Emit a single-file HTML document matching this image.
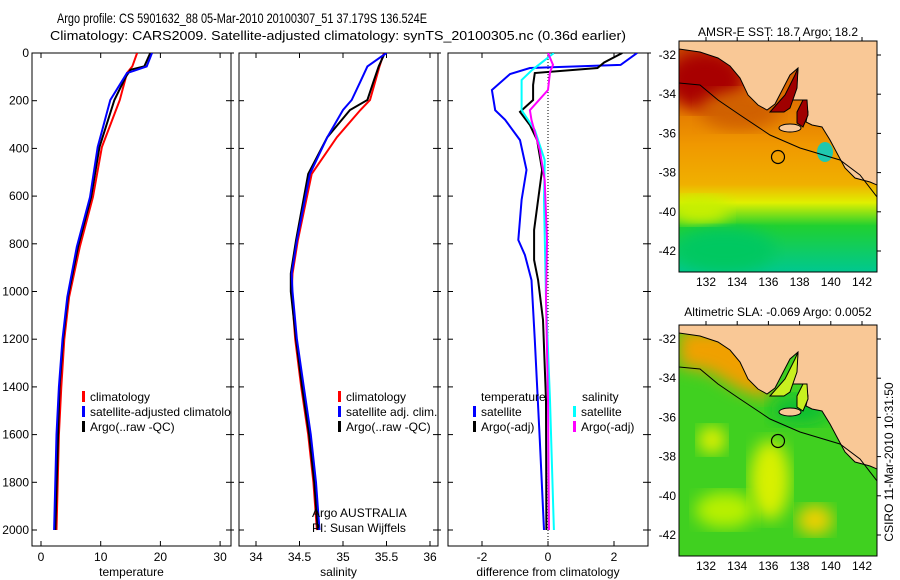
<!DOCTYPE html>
<html><head><meta charset="utf-8"><style>
html,body{margin:0;padding:0;background:#fff;}
svg{display:block;font-family:"Liberation Sans",sans-serif;}
</style></head><body>
<svg id="fig" width="900" height="580" viewBox="0 0 900 580">
<defs>
<linearGradient id="sst" x1="0" y1="0" x2="0" y2="1">
<stop offset="0" stop-color="#c84800"/><stop offset="0.25" stop-color="#e07000"/><stop offset="0.45" stop-color="#f09800"/>
<stop offset="0.62" stop-color="#f0b000"/><stop offset="0.7" stop-color="#e0f000"/><stop offset="0.8" stop-color="#20d030"/>
<stop offset="1" stop-color="#00c890"/></linearGradient>
<filter id="bl"><feGaussianBlur stdDeviation="8"/></filter>
<clipPath id="c1"><rect x="679" y="41" width="198" height="231"/></clipPath>
<clipPath id="c2"><rect x="679" y="325" width="198" height="231"/></clipPath>
<clipPath id="cp1"><rect x="32" y="53" width="199" height="493"/></clipPath>
<clipPath id="cp2"><rect x="239" y="53" width="199" height="493"/></clipPath>
<clipPath id="cp3"><rect x="448" y="53" width="200" height="493"/></clipPath>
</defs>
<text x="57" y="23" font-size="14" textLength="370" lengthAdjust="spacingAndGlyphs">Argo profile: CS 5901632_88 05-Mar-2010 20100307_51 37.179S 136.524E</text>
<text x="50" y="40" font-size="13" textLength="576" lengthAdjust="spacingAndGlyphs">Climatology: CARS2009. Satellite-adjusted climatology: synTS_20100305.nc (0.36d earlier)</text>

<g id="p1"></g>
<g id="p2"></g>
<g id="p3"></g>

<g clip-path="url(#c1)">
<rect x="679" y="41" width="198" height="231" fill="url(#sst)"/>
<ellipse cx="705" cy="80" rx="40" ry="30" fill="#a80000" filter="url(#bl)"/>
<ellipse cx="740" cy="110" rx="40" ry="20" fill="#d06000" filter="url(#bl)"/>
<ellipse cx="700" cy="210" rx="30" ry="14" fill="#c8f000" filter="url(#bl)"/>
<ellipse cx="725" cy="250" rx="50" ry="22" fill="#00c860" filter="url(#bl)"/>
<ellipse cx="825" cy="152" rx="8" ry="10" fill="#20c8b0"/>
<path d="M679,41 L679,49 L700,52 L718,58 L730,66 L740,78 L748,95 L758,105 L767,110 L775,104 L790,75 L798,68 L797,82 L792,100 L805,100 L808,112 L806,122 L812,125 L822,127 L830,140 L838,155 L845,168 L855,178 L870,182 L877,185 L877,41 Z" fill="#f9c896" stroke="#000" stroke-width="1"/>
<path d="M770,112 L785,95 L795,75 L798,68 L797,88 L790,108 L784,112 Z" fill="#a00000" stroke="#000"/>
<path d="M797,112 L803,100 L807,100 L808,115 L803,127 L797,123 Z" fill="#a00000" stroke="#000"/>
<ellipse cx="790" cy="128" rx="11" ry="4" fill="#f9c896" stroke="#000"/>
<path d="M679,83 L700,85 L718,100 L740,115 L770,135 L800,148 L840,160 L860,175 L877,197" fill="none" stroke="#000" stroke-width="1"/>
<circle cx="778" cy="157" r="6.5" fill="none" stroke="#000" stroke-width="1.2"/>
</g>
<rect x="679" y="41" width="198" height="231" fill="none" stroke="#000"/>
<text x="778" y="36" font-size="12" text-anchor="middle">AMSR-E SST: 18.7 Argo: 18.2</text>

<g clip-path="url(#c2)">
<rect x="679" y="325" width="198" height="231" fill="#40d020"/>
<path d="M679,330 L760,330 L770,400 L740,390 L710,372 L679,366 Z" fill="#f0a000" filter="url(#bl)"/>
<ellipse cx="712" cy="440" rx="14" ry="14" fill="#e0f000" filter="url(#bl)"/>
<ellipse cx="770" cy="480" rx="20" ry="40" fill="#d8f000" filter="url(#bl)"/>
<ellipse cx="815" cy="520" rx="18" ry="15" fill="#f0d000" filter="url(#bl)"/>
<ellipse cx="725" cy="510" rx="30" ry="18" fill="#b8f000" filter="url(#bl)"/>
<ellipse cx="800" cy="410" rx="30" ry="15" fill="#10c030" filter="url(#bl)"/>
<g transform="translate(0,284)">
<path d="M679,41 L679,49 L700,52 L718,58 L730,66 L740,78 L748,95 L758,105 L767,110 L775,104 L790,75 L798,68 L797,82 L792,100 L805,100 L808,112 L806,122 L812,125 L822,127 L830,140 L838,155 L845,168 L855,178 L870,182 L877,185 L877,41 Z" fill="#f9c896" stroke="#000" stroke-width="1"/>
<path d="M770,112 L785,95 L795,75 L798,68 L797,88 L790,108 L784,112 Z" fill="#c8f020" stroke="#000"/>
<path d="M797,112 L803,100 L807,100 L808,115 L803,127 L797,123 Z" fill="#c8f020" stroke="#000"/>
<ellipse cx="790" cy="128" rx="11" ry="4" fill="#f9c896" stroke="#000"/>
<path d="M679,83 L700,85 L718,100 L740,115 L770,135 L800,148 L840,160 L860,175 L877,197" fill="none" stroke="#000" stroke-width="1"/>
<circle cx="778" cy="157" r="6.5" fill="none" stroke="#000" stroke-width="1.2"/>
</g>
</g>
<rect x="679" y="325" width="198" height="231" fill="none" stroke="#000"/>
<text x="778" y="316" font-size="12" text-anchor="middle">Altimetric SLA: -0.069 Argo: 0.0052</text>
<text transform="translate(893,462) rotate(-90)" font-size="12" text-anchor="middle">CSIRO 11-Mar-2010 10:31:50</text>
<g id="mapax"></g>
</svg>
<script>
const depthTicks = [0,200,400,600,800,1000,1200,1400,1600,1800,2000];
const tempTicks = [0,10,20,30];
const salTicks = [34,34.5,35,35.5,36];
const diffTicks = [-2,0,2];
const lonTicks = [132,134,136,138,140,142];
const latTicks = [-32,-34,-36,-38,-40,-42];

const tClimDepth = [0,56,84,197,394,604,813,1023,1200,1400,1600,2000];
const tClimVal   = [16.1,15.3,14.4,13.2,10.2,8.7,6.5,4.7,3.9,3.4,3.0,2.6];
const tSatDepth = [0,56,75,84,197,394,604,813,1023,1200,1400,1600,2000];
const tSatVal   = [18.6,17.7,15.5,14.4,11.6,9.5,8.2,6.0,4.4,3.6,3.0,2.6,2.2];
const tArgoDepth = [0,56,70,100,197,394,604,813,1023,1200,1400,2000];
const tArgoVal   = [18.3,17.3,15.0,14.2,12.3,9.8,8.4,6.2,4.5,3.7,3.1,2.4];

const sClimDepth = [0,56,197,239,353,507,786,925,1000,1200,1400,1600,1800,2000];
const sClimVal   = [35.47,35.42,35.31,35.2,34.93,34.64,34.48,34.42,34.41,34.45,34.52,34.6,34.66,34.7];
const sSatDepth = [0,56,120,197,239,353,507,786,925,1000,1200,1400,1600,1800,2000];
const sSatVal   = [35.5,35.28,35.2,35.1,35.0,34.82,34.62,34.47,34.41,34.42,34.47,34.55,34.63,34.69,34.73];
const sArgoDepth = [0,56,120,197,239,353,507,786,925,1000,1200,1400,1600,1800,2000];
const sArgoVal   = [35.48,35.41,35.35,35.28,35.08,34.82,34.6,34.46,34.4,34.4,34.46,34.53,34.61,34.67,34.71];

const dTSatDepth = [0,50,63,88,155,240,280,365,490,616,784,847,952,1203,1623,2000];
const dTSatVal   = [2.7,2.2,-0.55,-1.15,-1.7,-1.6,-1.3,-0.85,-0.65,-0.8,-0.9,-0.7,-0.5,-0.4,-0.25,-0.12];
const dTArgoDepth = [0,40,63,84,134,197,247,302,365,490,616,742,868,952,1119,1455,2000];
const dTArgoVal   = [2.25,1.7,1.5,-0.4,-0.45,-0.45,-0.85,-0.55,-0.33,-0.18,-0.3,-0.42,-0.42,-0.3,-0.15,-0.06,-0.05];
const dSSatDepth = [0,30,71,113,240,323,449,616,1035,1455,2000];
const dSSatVal   = [0.18,-0.1,-0.48,-0.8,-0.8,-0.4,-0.1,-0.12,-0.06,0.06,0.18];
const dSArgoDepth = [0,50,80,155,240,281,407,533,784,1035,1455,2000];
const dSArgoVal   = [0.0,0.15,0.06,0.0,-0.55,-0.5,-0.25,-0.1,-0.03,-0.06,0.0,0.03];

const NS='http://www.w3.org/2000/svg';
const yOf = d => 53 + d*477/2000;
const xT = v => 41 + v*5.97;
const xS = v => 256 + (v-34)*87;
const xD = v => 548 + v*33;
function mk(tag, attrs, parent){const e=document.createElementNS(NS,tag);for(const k in attrs)e.setAttribute(k,attrs[k]);parent.appendChild(e);return e;}

function panel(gid, x0, x1, xf, ticks, xlabel, clip, showY){
  const g=document.getElementById(gid);
  const fr=mk('rect',{x:x0,y:53,width:x1-x0,height:493,fill:'none',stroke:'#000'},g);
  
  
  depthTicks.forEach(d=>{
    const y=yOf(d);
    mk('line',{x1:x0,x2:x0+5,y1:y,y2:y,stroke:'#000'},g);
    mk('line',{x1:x1-5,x2:x1+3,y1:y,y2:y,stroke:'#000'},g);
    if(showY){const t=mk('text',{x:x0-3,y:y+4,'font-size':12,'text-anchor':'end'},g);t.textContent=d;
      
      }
  });
  ticks.forEach(v=>{
    const x=xf(v);
    mk('line',{x1:x,x2:x,y1:53,y2:58,stroke:'#000'},g);
    mk('line',{x1:x,x2:x,y1:541,y2:546,stroke:'#000'},g);
    const t=mk('text',{x:x,y:561,'font-size':12,'text-anchor':'middle'},g);t.textContent=v;
    
    
  });
  const l=mk('text',{x:(x0+x1)/2,y:576,'font-size':12,'text-anchor':'middle'},g);l.textContent=xlabel;
  
  
  return mk('g',{'clip-path':'url(#'+clip+')'},g);
}
function line(g, xf, depth, vals, color, name){
  const pts=depth.map((d,i)=>xf(vals[i]).toFixed(1)+','+yOf(d).toFixed(1)).join(' ');
  const p=mk('polyline',{points:pts,fill:'none',stroke:color,'stroke-width':2},g);
  
  
}
function legend(g, x, y, color, label){
  mk('rect',{x:x,y:y-9,width:3,height:11,fill:color},g);
  const t=mk('text',{x:x+8,y:y+1,'font-size':12},g);t.textContent=label;
  
  
}

const g1=panel('p1',32,231,xT,tempTicks,'temperature','cp1',true);
line(g1,xT,tClimDepth,tClimVal,'#f00','temp-climatology-line');
line(g1,xT,tArgoDepth,tArgoVal,'#000','temp-argo-line');
line(g1,xT,tSatDepth,tSatVal,'#00f','temp-satellite-line');
legend(g1,82,400,'#f00','climatology');
legend(g1,82,415,'#00f','satellite-adjusted climatology');
legend(g1,82,430,'#000','Argo(..raw -QC)');

const g2=panel('p2',239,438,xS,salTicks,'salinity','cp2',false);
line(g2,xS,sClimDepth,sClimVal,'#f00','sal-climatology-line');
line(g2,xS,sArgoDepth,sArgoVal,'#000','sal-argo-line');
line(g2,xS,sSatDepth,sSatVal,'#00f','sal-satellite-line');
legend(g2,338,400,'#f00','climatology');
legend(g2,338,415,'#00f','satellite adj. clim.');
legend(g2,338,430,'#000','Argo(..raw -QC)');
let t=mk('text',{x:312,y:517,'font-size':12},g2);t.textContent='Argo AUSTRALIA';


t=mk('text',{x:312,y:532,'font-size':12},g2);t.textContent='PI: Susan Wijffels';



const g3=panel('p3',448,648,xD,diffTicks,'difference from climatology','cp3',false);
mk('line',{x1:xD(0),x2:xD(0),y1:53,y2:546,stroke:'#000','stroke-dasharray':'1,2'},g3);
line(g3,xD,dTSatDepth,dTSatVal,'#00f','diff-temp-satellite-line');
line(g3,xD,dTArgoDepth,dTArgoVal,'#000','diff-temp-argo-line');
line(g3,xD,dSSatDepth,dSSatVal,'#0ff','diff-sal-satellite-line');
line(g3,xD,dSArgoDepth,dSArgoVal,'#f0f','diff-sal-argo-line');
t=mk('text',{x:481,y:401,'font-size':12},g3);t.textContent='temperature';


t=mk('text',{x:582,y:401,'font-size':12},g3);t.textContent='salinity';


legend(g3,473,415,'#00f','satellite');
legend(g3,473,430,'#000','Argo(-adj)');
legend(g3,573,415,'#0ff','satellite');
legend(g3,573,430,'#f0f','Argo(-adj)');

const mapax=document.getElementById('mapax');
[[41,272],[325,556]].forEach(([top,bot])=>{
  lonTicks.forEach(lon=>{
    const x=706+(lon-132)*15.6;
    mk('line',{x1:x,x2:x,y1:top-4,y2:top,stroke:'#000'},mapax);
    const tt=mk('text',{x:x,y:bot+14,'font-size':12,'text-anchor':'middle'},mapax);tt.textContent=lon;
    
    
  });
  latTicks.forEach(lat=>{
    const y=top+14+(-32-lat)*19.6;
    mk('line',{x1:877,x2:881,y1:y,y2:y,stroke:'#000'},mapax);
    const tt=mk('text',{x:676,y:y+4,'font-size':12,'text-anchor':'end'},mapax);tt.textContent=lat;
    
    
  });
});
</script>
</body></html>
